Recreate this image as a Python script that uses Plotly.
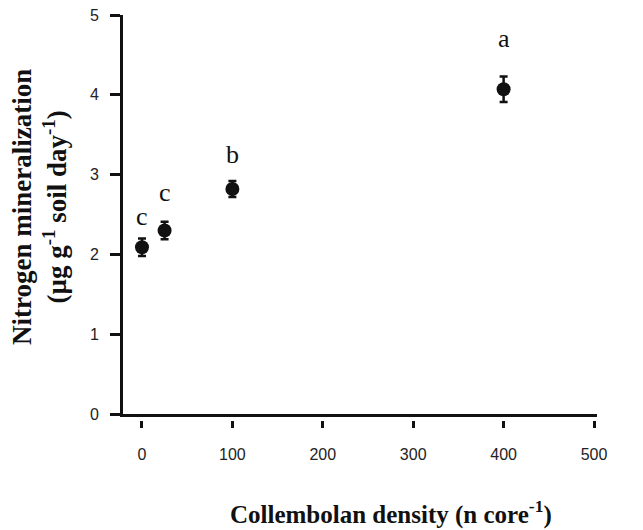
import plotly.graph_objects as go

# Data
density = [0, 25, 100, 400]
n_min = [2.09, 2.30, 2.82, 4.07]
n_err = [0.11, 0.11, 0.10, 0.16]
letters = ["c", "c", "b", "a"]
letter_y = [2.47, 2.77, 3.25, 4.71]

x_ticks = [0, 100, 200, 300, 400, 500]
y_ticks = [0, 1, 2, 3, 4, 5]

# the page body has an 8px margin, so the figure is drawn 8px smaller/shifted
OFF = 8
W, H = 643 - OFF, 530 - OFF
ml, mr, mt, mb = 123 - OFF, 46, 15 - OFF, 110
plot_w = W - ml - mr
plot_h = H - mt - mb
gap = 6
ydom0 = gap / plot_h

fig = go.Figure()
fig.add_trace(go.Scatter(
    x=density, y=n_min, mode="markers",
    marker=dict(size=14, color="#111111"),
    error_y=dict(type="data", array=n_err, visible=True, color="#111111",
                 thickness=2.5, width=4),
    xaxis="x", yaxis="y", showlegend=False, hoverinfo="skip",
))
# invisible trace to carry the detached tick axis
fig.add_trace(go.Scatter(x=density, y=n_min, mode="markers",
                         marker=dict(opacity=0), xaxis="x2", yaxis="y",
                         showlegend=False, hoverinfo="skip"))

for xv, lv, lt in zip(density, letter_y, letters):
    fig.add_annotation(x=xv, y=lv, text=lt, showarrow=False, xref="x", yref="y",
                       font=dict(family="Liberation Serif", size=26, color="#111111"))

tickfont = dict(family="Liberation Sans", size=16, color="#222222")
fig.update_layout(
    template="none",
    width=W, height=H,
    margin=dict(l=ml, r=mr, t=mt, b=mb, autoexpand=False),
    plot_bgcolor="white", paper_bgcolor="white",
    xaxis=dict(range=[-21, 503.3], showline=True, linecolor="#111111", linewidth=3,
               ticks="", showticklabels=False, showgrid=False, zeroline=False,
               anchor="y", automargin=False),
    xaxis2=dict(range=[-21, 503.3], matches="x", overlaying="x", anchor="free",
                position=0, side="bottom", showline=False, ticks="outside",
                ticklen=7, tickwidth=3, tickcolor="#111111", tickvals=x_ticks,
                tickfont=tickfont, ticklabelstandoff=13, showgrid=False,
                zeroline=False, automargin=False, ticklabeloverflow="allow"),
    yaxis=dict(range=[0, 5], domain=[ydom0, 1], showline=True, linecolor="#111111",
               linewidth=3, ticks="outside", ticklen=10, tickwidth=3,
               tickcolor="#111111", tickvals=y_ticks, tickfont=tickfont,
               ticklabelstandoff=8, showgrid=False, zeroline=False,
               automargin=False, ticklabeloverflow="allow"),
)

fig.add_annotation(
    text="<b>Collembolan density (n core<sup>-1</sup>)</b>",
    xref="paper", yref="paper", x=(391 - OFF - ml) / plot_w,
    y=(H - mb - (512 - OFF)) / plot_h,
    showarrow=False, font=dict(family="Liberation Serif", size=25, color="#111111"),
    xanchor="center", yanchor="middle")
fig.add_annotation(
    text="<b>Nitrogen mineralization<br>(µg g<sup>-1</sup> soil day<sup>-1</sup>)</b>",
    xref="paper", yref="paper", x=(39 - OFF - ml) / plot_w,
    y=(H - mb - (207 - OFF)) / plot_h,
    textangle=-90, showarrow=False,
    font=dict(family="Liberation Serif", size=27, color="#111111"),
    xanchor="center", yanchor="middle")

fig.write_html("out.html")
